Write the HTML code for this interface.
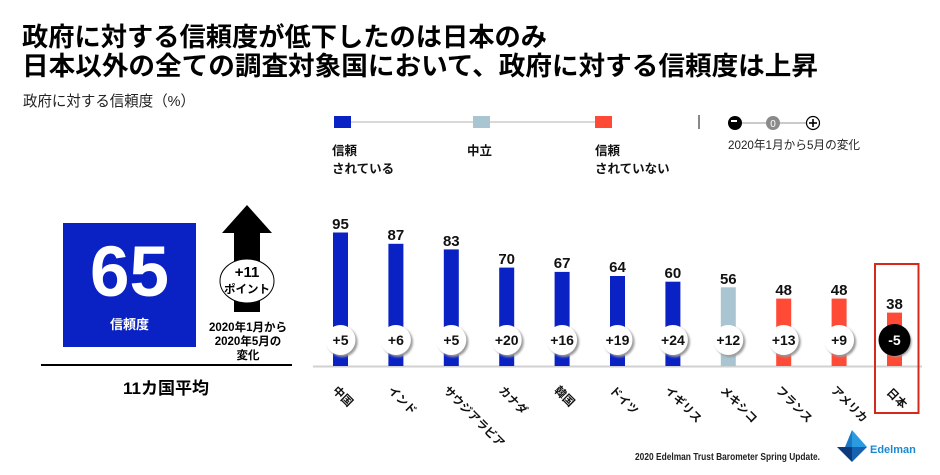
<!DOCTYPE html>
<html><head><meta charset="utf-8"><style>
html,body{margin:0;padding:0;background:#fff;width:940px;height:475px;overflow:hidden}
svg{display:block}
text{font-family:"Liberation Sans","Noto Sans CJK JP",sans-serif}
</style></head><body>
<svg width="940" height="475" viewBox="0 0 940 475" xmlns="http://www.w3.org/2000/svg">
<defs>
<filter id="sh" x="-30%" y="-30%" width="160%" height="160%"><feGaussianBlur stdDeviation="1"/></filter>
</defs>
<!-- Titles -->
<text x="22" y="46" font-size="26" font-weight="bold" fill="#000" textLength="525" lengthAdjust="spacingAndGlyphs">政府に対する信頼度が低下したのは日本のみ</text>
<text x="22" y="75" font-size="26" font-weight="bold" fill="#000" textLength="796" lengthAdjust="spacingAndGlyphs">日本以外の全ての調査対象国において、政府に対する信頼度は上昇</text>
<text x="23" y="106" font-size="15" fill="#222" textLength="172" lengthAdjust="spacingAndGlyphs">政府に対する信頼度（%）</text>

<!-- Legend -->
<line x1="345" y1="122" x2="600" y2="122" stroke="#d9d9d9" stroke-width="2"/>
<rect x="334" y="116" width="17" height="12" fill="#0a22c4"/>
<rect x="473" y="116" width="17" height="12" fill="#a9c5d1"/>
<rect x="595" y="116" width="17" height="12" fill="#ff4a36"/>
<g font-size="12.5" font-weight="bold" fill="#111">
<text x="332" y="155">信頼</text>
<text x="332" y="173">されている</text>
<text x="467" y="155">中立</text>
<text x="595" y="155">信頼</text>
<text x="595" y="173">されていない</text>
</g>
<line x1="699" y1="115" x2="699" y2="129" stroke="#888" stroke-width="2"/>
<line x1="740" y1="123" x2="808" y2="123" stroke="#aaa" stroke-width="1.2"/>
<circle cx="735" cy="123" r="7" fill="#000"/>
<rect x="731" y="120" width="6" height="2" fill="#fff"/>
<circle cx="773" cy="123" r="7" fill="#8a8a8a"/>
<text x="773" y="127" font-size="10" fill="#fff" text-anchor="middle">0</text>
<circle cx="813" cy="123" r="6.5" fill="#fff" stroke="#000" stroke-width="1.2"/>
<line x1="809" y1="123" x2="817" y2="123" stroke="#000" stroke-width="1.6"/>
<line x1="813" y1="119" x2="813" y2="127" stroke="#000" stroke-width="1.6"/>
<text x="728" y="149" font-size="12" fill="#222" textLength="132" lengthAdjust="spacingAndGlyphs">2020年1月から5月の変化</text>

<!-- Left panel -->
<rect x="63" y="223" width="133" height="124" fill="#0a22c4"/>
<text x="129.5" y="296" font-size="71" font-weight="bold" fill="#fff" text-anchor="middle">65</text>
<text x="129.5" y="329" font-size="13" font-weight="bold" fill="#fff" text-anchor="middle">信頼度</text>
<polygon points="247,205 272,233 260,233 260,312 234,312 234,233 222,233" fill="#000"/>
<ellipse cx="247" cy="281" rx="27" ry="22" fill="#fff" stroke="#000" stroke-width="1"/>
<text x="247" y="277" font-size="15" font-weight="bold" fill="#000" text-anchor="middle">+11</text>
<text x="247" y="293" font-size="11.5" font-weight="bold" fill="#000" text-anchor="middle">ポイント</text>
<g font-size="11.5" font-weight="bold" fill="#000" text-anchor="middle">
<text x="248" y="331">2020年1月から</text>
<text x="248" y="345">2020年5月の</text>
<text x="248" y="359">変化</text>
</g>
<line x1="41" y1="365" x2="292" y2="365" stroke="#000" stroke-width="2"/>
<text x="166" y="394" font-size="17" font-weight="bold" fill="#000" text-anchor="middle">11カ国平均</text>

<!-- Axis -->
<line x1="313" y1="366.5" x2="922" y2="366.5" stroke="#d0d0d0" stroke-width="2"/>

<!-- Bars -->
<g>
<rect x="333" y="232.5" width="15" height="133.5" fill="#0a22c4"/>
<rect x="388.4" y="243.8" width="15" height="122.2" fill="#0a22c4"/>
<rect x="443.8" y="249.4" width="15" height="116.6" fill="#0a22c4"/>
<rect x="499.2" y="267.6" width="15" height="98.4" fill="#0a22c4"/>
<rect x="554.6" y="271.9" width="15" height="94.1" fill="#0a22c4"/>
<rect x="610" y="276" width="15" height="90" fill="#0a22c4"/>
<rect x="665.4" y="281.7" width="15" height="84.3" fill="#0a22c4"/>
<rect x="720.8" y="287.3" width="15" height="78.7" fill="#a9c5d1"/>
<rect x="776.2" y="298.6" width="15" height="67.4" fill="#ff4a36"/>
<rect x="831.6" y="298.6" width="15" height="67.4" fill="#ff4a36"/>
<rect x="887" y="312.6" width="15" height="53.4" fill="#ff4a36"/>
</g>
<g font-size="15" font-weight="bold" fill="#111" text-anchor="middle">
<text x="340.5" y="229">95</text>
<text x="395.9" y="240">87</text>
<text x="451.3" y="246">83</text>
<text x="506.7" y="264">70</text>
<text x="562.1" y="268">67</text>
<text x="617.5" y="272">64</text>
<text x="672.9" y="278">60</text>
<text x="728.3" y="284">56</text>
<text x="783.7" y="295">48</text>
<text x="839.1" y="295">48</text>
<text x="894.5" y="309">38</text>
</g>

<!-- Change circles -->
<g fill="#999" filter="url(#sh)">
<circle cx="342.5" cy="342" r="15"/>
<circle cx="397.9" cy="342" r="15"/>
<circle cx="453.3" cy="342" r="15"/>
<circle cx="508.7" cy="342" r="15"/>
<circle cx="564.1" cy="342" r="15"/>
<circle cx="619.5" cy="342" r="15"/>
<circle cx="674.9" cy="342" r="15"/>
<circle cx="730.3" cy="342" r="15"/>
<circle cx="785.7" cy="342" r="15"/>
<circle cx="841.1" cy="342" r="15"/>
<circle cx="896.5" cy="342" r="15"/>
</g>
<g fill="#fff">
<circle cx="340.5" cy="340" r="15"/>
<circle cx="395.9" cy="340" r="15"/>
<circle cx="451.3" cy="340" r="15"/>
<circle cx="506.7" cy="340" r="15"/>
<circle cx="562.1" cy="340" r="15"/>
<circle cx="617.5" cy="340" r="15"/>
<circle cx="672.9" cy="340" r="15"/>
<circle cx="728.3" cy="340" r="15"/>
<circle cx="783.7" cy="340" r="15"/>
<circle cx="839.1" cy="340" r="15"/>
</g>
<circle cx="894.5" cy="340" r="16" fill="#000"/>
<g font-size="14" font-weight="bold" fill="#111" text-anchor="middle">
<text x="340.5" y="345">+5</text>
<text x="395.9" y="345">+6</text>
<text x="451.3" y="345">+5</text>
<text x="506.7" y="345">+20</text>
<text x="562.1" y="345">+16</text>
<text x="617.5" y="345">+19</text>
<text x="672.9" y="345">+24</text>
<text x="728.3" y="345">+12</text>
<text x="783.7" y="345">+13</text>
<text x="839.1" y="345">+9</text>
<text x="894.5" y="345" fill="#fff">-5</text>
</g>

<!-- Country labels -->
<g font-size="11.5" font-weight="bold" fill="#111">
<text transform="translate(332,391) rotate(45)">中国</text>
<text transform="translate(387.4,391) rotate(45)">インド</text>
<text transform="translate(442.8,391) rotate(45)">サウジアラビア</text>
<text transform="translate(498.2,391) rotate(45)">カナダ</text>
<text transform="translate(553.6,391) rotate(45)">韓国</text>
<text transform="translate(609,391) rotate(45)">ドイツ</text>
<text transform="translate(664.4,391) rotate(45)">イギリス</text>
<text transform="translate(719.8,391) rotate(45)">メキシコ</text>
<text transform="translate(775.2,391) rotate(45)">フランス</text>
<text transform="translate(830.6,391) rotate(45)">アメリカ</text>
<text transform="translate(886,393) rotate(45)">日本</text>
</g>

<!-- Highlight box -->
<rect x="875" y="264" width="43.5" height="149" fill="none" stroke="#d42a1e" stroke-width="2"/>

<!-- Footer -->
<text x="635" y="460" font-size="10" font-weight="bold" fill="#222" textLength="185" lengthAdjust="spacingAndGlyphs">2020 Edelman Trust Barometer Spring Update.</text>
<polygon points="852,430 867,447 852,447" fill="#2a9be0"/>
<polygon points="852,430 852,447 845,447" fill="#1b78c4"/>
<polygon points="837,447 852,447 852,462" fill="#0d3a7a"/>
<polygon points="852,447 867,447 852,462" fill="#1462b0"/>
<text x="870" y="453" font-size="11" font-weight="bold" fill="#1a8ad0">Edelman</text>
</svg>
</body></html>
